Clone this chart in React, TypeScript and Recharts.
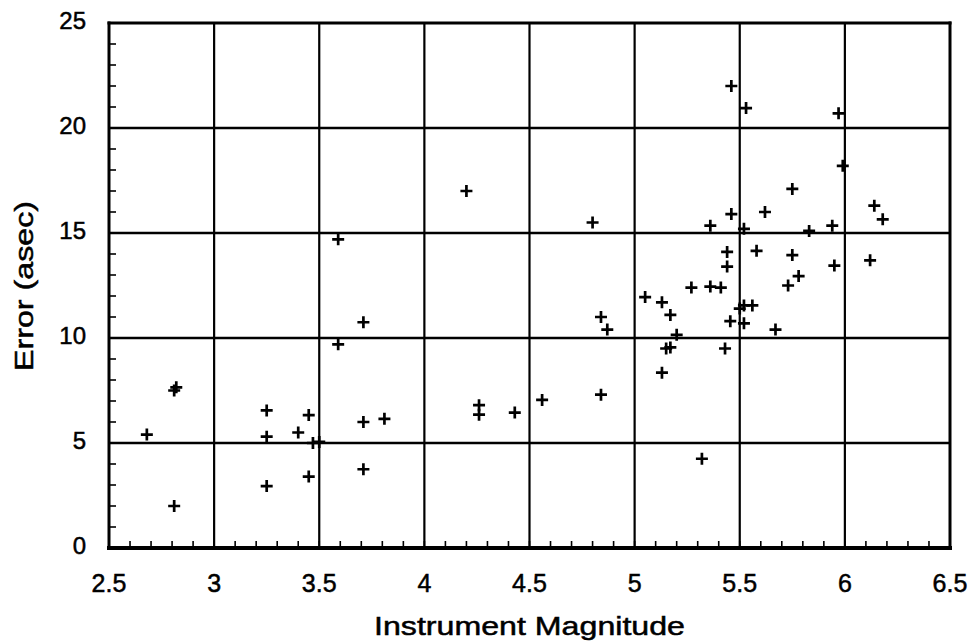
import React from 'react';
import { ScatterChart, Scatter, XAxis, YAxis, ReferenceLine } from 'recharts';

// instrument magnitude / error pairs
const magnitude = [
  2.68, 2.81, 2.82, 2.81, 3.25, 3.25, 3.25, 3.4, 3.45, 3.45, 3.47, 3.5, 3.59, 3.59, 3.71, 3.71, 3.71,
  3.81, 4.2, 4.26, 4.26, 4.43, 4.56, 4.8, 4.84, 4.84, 4.87, 5.05, 5.13, 5.13, 5.15, 5.17, 5.17, 5.2,
  5.27, 5.32, 5.36, 5.36, 5.41, 5.43, 5.44, 5.44, 5.455, 5.46, 5.46, 5.5, 5.52, 5.56, 5.52, 5.52,
  5.53, 5.58, 5.62, 5.67, 5.73, 5.75, 5.75, 5.78, 5.83, 5.94, 5.95, 5.97, 5.99, 6.12, 6.14, 6.18,
];
const errorAsec = [
  5.4, 7.5, 7.65, 2.0, 6.55, 5.3, 2.95, 5.5, 6.33, 3.4, 5.0, 5.05, 9.7, 14.7, 10.75, 6.0, 3.75,
  6.15, 17.0, 6.8, 6.35, 6.45, 7.05, 15.5, 11.0, 7.3, 10.4, 11.95, 11.7, 8.35, 9.5, 9.55, 11.1, 10.15,
  12.4, 4.25, 15.35, 12.45, 12.4, 9.5, 14.1, 13.4, 10.8, 22.0, 15.9, 11.4, 11.55, 11.55, 10.7, 15.2,
  20.95, 14.15, 16.0, 10.4, 12.5, 17.1, 13.95, 12.95, 15.1, 15.35, 13.45, 20.7, 18.2, 13.7, 16.3, 15.65,
];

const xGrid = [3, 3.5, 4, 4.5, 5, 5.5, 6];
const yGrid = [5, 10, 15, 20];
const xMinorTicks = Array.from({ length: 41 }, (_, i) => +(2.5 + i * 0.1).toFixed(1));
const yMinorTicks = Array.from({ length: 26 }, (_, i) => i);

const data = magnitude.map((m, i) => ({ m, e: errorAsec[i] }));

const FONT = '"Liberation Sans", Arial, Helvetica, sans-serif';
// scanned text looks a bit heavy, a thin outline helps
const ink = { fill: '#000', stroke: '#000', strokeWidth: 0.5 };

const isMajor = (v: number, step: number) => Math.abs(v / step - Math.round(v / step)) < 1e-6;

const XTick = (props: any) => {
  const { x, y, payload } = props;
  const v = payload.value;
  return (
    <g>
      <line x1={x} x2={x} y1={y} y2={y - 7} stroke="#000" strokeWidth={1.6} />
      {isMajor(v, 0.5) && (
        <text x={x} y={y + 44} textAnchor="middle" fontSize={25} fontFamily={FONT} {...ink}>
          {String(v)}
        </text>
      )}
    </g>
  );
};

const YTick = (props: any) => {
  const { x, y, payload } = props;
  const v = payload.value;
  return (
    <g>
      <line x1={x} x2={x + 7} y1={y} y2={y} stroke="#000" strokeWidth={1.6} />
      {isMajor(v, 5) && (
        <text x={x - 23} y={y + 6} textAnchor="end" fontSize={24} fontFamily={FONT} {...ink}>
          {String(v)}
        </text>
      )}
    </g>
  );
};

const Plus = (props: any) => {
  const { cx, cy } = props;
  return (
    <path
      d={`M${cx - 6},${cy}H${cx + 6}M${cx},${cy - 6}V${cy + 6}`}
      stroke="#000"
      strokeWidth={2.7}
      fill="none"
    />
  );
};

export default function App() {
  return (
    <div style={{ position: 'absolute', left: 0, top: 0, width: 970, height: 642, background: '#fff' }}>
      <ScatterChart width={970} height={642} margin={{ top: 23, right: 20, bottom: 0, left: 0 }}>
        <XAxis
          type="number"
          dataKey="m"
          domain={[2.5, 6.5]}
          ticks={xMinorTicks}
          interval={0}
          height={94}
          tickSize={0}
          tickMargin={0}
          axisLine={false}
          tickLine={false}
          tick={<XTick />}
          label={{
            content: () => (
              <text
                x={529.5}
                y={635}
                textAnchor="middle"
                fontSize={26}
                fontFamily={FONT}
                {...ink}
                textLength={311}
                lengthAdjust="spacingAndGlyphs"
              >
                Instrument Magnitude
              </text>
            ),
          }}
        />
        <YAxis
          type="number"
          dataKey="e"
          domain={[0, 25]}
          ticks={yMinorTicks}
          interval={0}
          width={109}
          tickSize={0}
          tickMargin={0}
          axisLine={false}
          tickLine={false}
          tick={<YTick />}
          label={{
            content: () => (
              <text
                x={33}
                y={286}
                transform="rotate(-90, 33, 286)"
                textAnchor="middle"
                fontSize={26}
                fontFamily={FONT}
                {...ink}
                textLength={170}
                lengthAdjust="spacingAndGlyphs"
              >
                Error (asec)
              </text>
            ),
          }}
        />
        {xGrid.map((v) => (
          <ReferenceLine key={'x' + v} x={v} stroke="#000" strokeWidth={2.2} />
        ))}
        {yGrid.map((v) => (
          <ReferenceLine key={'y' + v} y={v} stroke="#000" strokeWidth={2.6} />
        ))}
        <ReferenceLine x={2.5} stroke="#000" strokeWidth={3} strokeLinecap="square" />
        <ReferenceLine x={6.5} stroke="#000" strokeWidth={3} strokeLinecap="square" />
        <ReferenceLine y={25} stroke="#000" strokeWidth={3} strokeLinecap="square" />
        <ReferenceLine y={0} stroke="#000" strokeWidth={4} strokeLinecap="square" />
        <Scatter data={data} shape={<Plus />} isAnimationActive={false} />
      </ScatterChart>
    </div>
  );
}
